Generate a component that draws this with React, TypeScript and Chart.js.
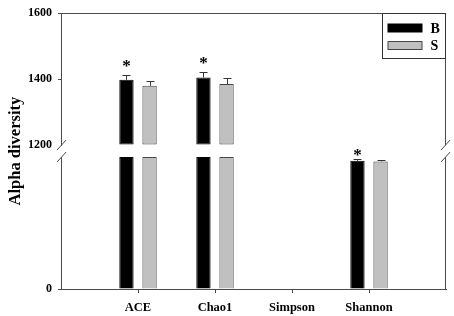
import React, { useEffect, useRef } from 'react';
import { Chart, registerables } from 'chart.js';

Chart.register(...registerables);

// ---- data ----
const categories = ['', 'ACE', 'Chao1', 'Simpson', 'Shannon', ''];
const seriesLabels = ['B', 'S'];
const valuesB = [null, 1398, 1405, 0.98, 1166, null];
const valuesS = [null, 1380, 1385, 0.97, 1161, null];
const errorsB = [null, 14, 17, 0, 13, null];
const errorsS = [null, 15, 19, 0, 12, null];
const starsB = [false, true, true, false, true, false];
const upperTicks = [1200, 1400, 1600];
const lowerTicks = [0];
const breakValue = 1200;
const upperMax = 1600;
const lowerMin = 0;

// ---- styles ----
const FONT = "'Liberation Serif', 'Times New Roman', serif";
const AXIS = '#4a4a4a';
const FILLS = ['#000000', '#c0c0c0'];
const BORDERS = ['#000000', '#454545'];
const ERR = '#333333';
const CLEAR = 'rgba(0,0,0,0)';

const series = [valuesB, valuesS];
const errors = [errorsB, errorsS];

const upperData = (vals: (number | null)[]) => vals.map((v) => (v != null && v > breakValue ? v : null));
const lowerData = (vals: (number | null)[]) => vals.map((v) => (v == null ? null : Math.min(v, breakValue)));

// bars far thinner than one pixel at this scale (Simpson) do not show in the figure
const subPixel = (c: any) => c.raw != null && Math.abs(c.raw) < 10;

const decorPlugin = {
  id: 'decor',
  afterDatasetsDraw(chart: any) {
    const ctx = chart.ctx as CanvasRenderingContext2D;
    const yU = chart.scales.yUpper;
    const yL = chart.scales.yLower;
    const area = chart.chartArea;
    ctx.save();
    ctx.lineWidth = 1;
    ctx.strokeStyle = AXIS;
    const line = (x1: number, y1: number, x2: number, y2: number) => {
      ctx.beginPath();
      ctx.moveTo(x1, y1);
      ctx.lineTo(x2, y2);
      ctx.stroke();
    };
    // frame: top and right (broken)
    const ty = Math.round(yU.top) + 0.5;
    const lx = Math.round(area.left) + 0.5;
    const rx = Math.round(area.right) - 0.5;
    line(lx, ty, rx, ty);
    line(rx, yU.top, rx, yU.bottom);
    line(rx, yL.top, rx, yL.bottom);
    // break slashes
    for (const ex of [lx, rx]) {
      for (const by of [yU.bottom, yL.top]) {
        line(ex - 4.5, by + 5, ex + 4.5, by - 5);
      }
    }
    // error bars + significance marks
    for (let s = 0; s < 2; s++) {
      const vals = series[s];
      const errs = errors[s];
      for (let i = 0; i < vals.length; i++) {
        const v = vals[i];
        const e = errs[i];
        if (v == null) continue;
        const upper = v > breakValue;
        const scale = upper ? yU : yL;
        const meta = chart.getDatasetMeta(upper ? s : s + 2);
        const bar = meta.data[i];
        if (!bar) continue;
        const cx = Math.round(bar.x) + 0.5;
        const y0 = scale.getPixelForValue(v);
        const y1 = Math.round(scale.getPixelForValue(v + (e || 0))) + 0.5;
        if (e) {
          ctx.strokeStyle = ERR;
          line(cx, y0, cx, y1);
          line(cx - 4, y1, cx + 4, y1);
        }
        if (s === 0 && starsB[i]) {
          ctx.fillStyle = '#000';
          ctx.font = `bold 17px ${FONT}`;
          ctx.textAlign = 'center';
          ctx.textBaseline = 'alphabetic';
          const m = ctx.measureText('*');
          const cy = y1 - (upper ? 12.5 : 7.5);
          const base = cy + (m.actualBoundingBoxAscent - m.actualBoundingBoxDescent) / 2;
          ctx.fillText('*', bar.x, base);
        }
      }
    }
    // legend box
    const bw = 64;
    const bh = 45;
    const bx = Math.round(area.right) - bw + 0.5;
    const by = Math.round(area.top) + 0.5;
    ctx.fillStyle = '#ffffff';
    ctx.fillRect(bx, by, bw - 1, bh);
    ctx.strokeStyle = '#333333';
    ctx.strokeRect(bx, by, bw - 1, bh);
    ctx.font = `bold 14px ${FONT}`;
    ctx.textAlign = 'left';
    ctx.textBaseline = 'middle';
    for (let s = 0; s < 2; s++) {
      const sy = by + 10.5 + s * 17.5;
      ctx.fillStyle = FILLS[s];
      ctx.fillRect(bx + 5.5, sy, 34, 8);
      ctx.strokeStyle = BORDERS[s];
      ctx.strokeRect(bx + 5.5, sy, 34, 8);
      ctx.fillStyle = '#000';
      ctx.fillText(seriesLabels[s], bx + 48, sy + 5);
    }
    ctx.restore();
  },
};

const tickFont = { family: FONT, size: 12, weight: 'bold' as const };

export default function App() {
  const ref = useRef<HTMLCanvasElement | null>(null);
  useEffect(() => {
    if (!ref.current) return;
    const mk = (s: number, axis: string) => ({
      label: seriesLabels[s],
      stack: seriesLabels[s],
      yAxisID: axis,
      data: axis === 'yUpper' ? upperData(series[s]) : lowerData(series[s]),
      base: axis === 'yUpper' ? breakValue : undefined,
      backgroundColor: (c: any) => (subPixel(c) ? CLEAR : FILLS[s]),
      borderColor: BORDERS[s],
      borderWidth: (c: any) => (subPixel(c) ? 0 : 1),
      borderSkipped: axis === 'yUpper' ? false : 'start',
      clip: 0,
      categoryPercentage: 0.6,
      barPercentage: 0.62,
    });
    const chart = new Chart(ref.current, {
      type: 'bar',
      data: {
        labels: categories,
        datasets: [mk(0, 'yUpper'), mk(1, 'yUpper'), mk(0, 'yLower'), mk(1, 'yLower')] as any,
      },
      options: {
        responsive: false,
        animation: false,
        devicePixelRatio: 1,
        layout: { padding: { top: 13, right: 8, bottom: 0, left: 0 } },
        plugins: { legend: { display: false }, tooltip: { enabled: false }, title: { display: false } },
        scales: {
          x: {
            type: 'category',
            offset: false,
            grid: {
              offset: false,
              drawOnChartArea: false,
              tickLength: 4,
              tickColor: (c: any) => (c.index === 0 || c.index === categories.length - 1 ? CLEAR : AXIS),
            },
            border: { color: AXIS, width: 1 },
            ticks: { font: { family: FONT, size: 12.5, weight: 'bold' }, color: '#000', padding: 7, autoSkip: false, maxRotation: 0 },
            afterFit: (s: any) => {
              s.height = 27;
            },
          },
          yLower: {
            type: 'linear',
            position: 'left',
            stack: 'y',
            stackWeight: 132,
            weight: 1,
            min: lowerMin,
            max: breakValue,
            stacked: false,
            afterBuildTicks: (s: any) => {
              s.ticks = lowerTicks.map((v) => ({ value: v }));
            },
            grid: { drawOnChartArea: false, tickLength: 3, tickColor: AXIS },
            border: { color: AXIS, width: 1 },
            ticks: { font: tickFont, color: '#000', padding: 6, callback: (v: any) => String(v) },
            afterFit: (s: any) => {
              s.width = 61;
            },
          },
          yGap: {
            type: 'linear',
            position: 'left',
            stack: 'y',
            stackWeight: 12,
            weight: 2,
            min: 0,
            max: 1,
            grid: { display: false },
            border: { display: false },
            ticks: { display: false },
            title: {
              display: true,
              text: 'Alpha diversity',
              font: { family: FONT, size: 16.5, weight: 'bold' },
              color: '#000',
              padding: { top: 6, bottom: 0 },
            },
            afterFit: (s: any) => {
              s.width = 61;
            },
          },
          yUpper: {
            type: 'linear',
            position: 'left',
            stack: 'y',
            stackWeight: 132,
            weight: 3,
            min: breakValue,
            max: upperMax,
            stacked: false,
            afterBuildTicks: (s: any) => {
              s.ticks = upperTicks.map((v) => ({ value: v }));
            },
            grid: {
              drawOnChartArea: false,
              tickLength: 3,
              tickColor: (c: any) => (c.tick && c.tick.value === breakValue ? CLEAR : AXIS),
            },
            border: { color: AXIS, width: 1 },
            ticks: { font: tickFont, color: '#000', padding: 6, callback: (v: any) => String(v) },
            afterFit: (s: any) => {
              s.width = 61;
            },
          },
        } as any,
      },
      plugins: [decorPlugin],
    });
    return () => chart.destroy();
  }, []);
  return (
    <div style={{ position: 'fixed', left: 0, top: 0, width: 454, height: 316, background: '#fff' }}>
      <canvas ref={ref} width={454} height={316} style={{ display: 'block' }} />
    </div>
  );
}
